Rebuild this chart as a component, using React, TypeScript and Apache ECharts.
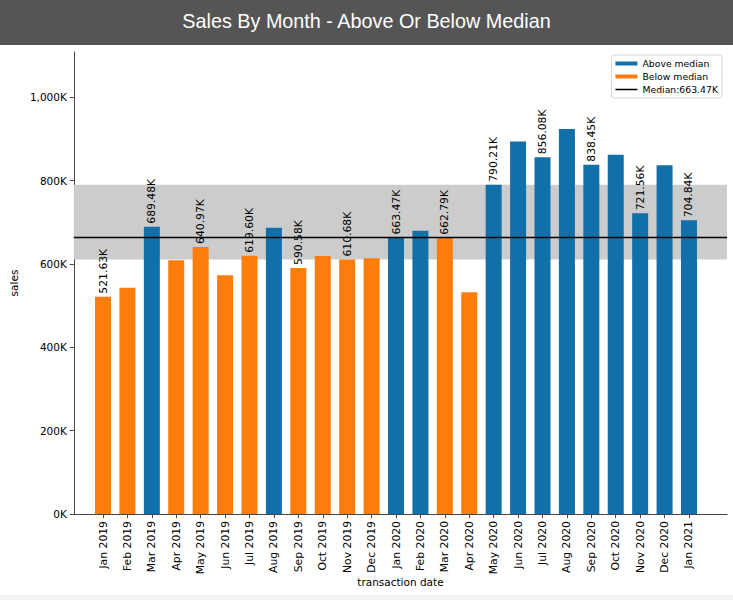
import React, { useEffect, useRef } from "react";
import * as echarts from "echarts";

// Monthly sales, Jan 2019 – Jan 2021
const months = [
  "Jan 2019", "Feb 2019", "Mar 2019", "Apr 2019", "May 2019", "Jun 2019",
  "Jul 2019", "Aug 2019", "Sep 2019", "Oct 2019", "Nov 2019", "Dec 2019",
  "Jan 2020", "Feb 2020", "Mar 2020", "Apr 2020", "May 2020", "Jun 2020",
  "Jul 2020", "Aug 2020", "Sep 2020", "Oct 2020", "Nov 2020", "Dec 2020",
  "Jan 2021",
];
const sales = [
  521630, 543000, 689480, 609000, 640970, 573000,
  619600, 687000, 590580, 619000, 610680, 614000,
  663470, 680000, 662790, 532000, 790210, 894000,
  856080, 924000, 838450, 862000, 721560, 837000,
  704840,
];
const yTickStep = 200000;

const ABOVE = "#1170aa";
const BELOW = "#fc7d0b";
const FONT = "DejaVu Sans";

// linear-interpolated quantile (same rule as numpy's default)
function quantile(values: number[], q: number): number {
  const s = [...values].sort((a, b) => a - b);
  const pos = (s.length - 1) * q;
  const lo = Math.floor(pos);
  const hi = Math.ceil(pos);
  return s[lo] + (s[hi] - s[lo]) * (pos - lo);
}

const median = quantile(sales, 0.5);
const q1 = quantile(sales, 0.25);
const q3 = quantile(sales, 0.75);
const yMax = Math.max(...sales) * 1.2;

const fmtK = (v: number) => (v / 1000).toFixed(2) + "K";
const tickK = (v: number) => (v / 1000).toLocaleString("en-US") + "K";

export default function App() {
  const ref = useRef<HTMLDivElement>(null);

  useEffect(() => {
    document.body.style.margin = "0";
    if (!ref.current) return;
    const chart = echarts.init(ref.current, null, { renderer: "svg" });

    const medianName = "Median:" + fmtK(median);

    const barLabel = {
      show: true,
      position: "top",
      rotate: 90,
      align: "left",
      verticalAlign: "middle",
      distance: 3,
      color: "#000",
      fontFamily: FONT,
      fontSize: 10.8,
      formatter: (p: any) => (p.dataIndex % 2 === 0 ? fmtK(p.value) : ""),
    };

    chart.setOption({
      animation: false,
      backgroundColor: "#ffffff",
      title: {
        text: "Sales By Month - Above Or Below Median",
        left: "center",
        top: 11,
        padding: 0,
        textStyle: {
          color: "#ffffff",
          fontFamily: "Liberation Sans",
          fontWeight: "normal",
          fontSize: 19.8,
        },
      },
      graphic: [
        {
          type: "rect",
          z: -10,
          shape: { x: 0, y: 0, width: 733, height: 45 },
          style: { fill: "#555555" },
        },
        {
          type: "rect",
          z: -10,
          shape: { x: 0, y: 595, width: 733, height: 5 },
          style: { fill: "#f4f4f4" },
        },
      ],
      legend: {
        right: 11,
        top: 55,
        orient: "vertical",
        align: "left",
        backgroundColor: "#ffffff",
        borderColor: "#d6d6d6",
        borderWidth: 1,
        borderRadius: 3,
        padding: [3, 4, 3, 4],
        itemGap: 2,
        itemWidth: 22,
        itemHeight: 4,
        textStyle: { fontFamily: FONT, fontSize: 9.3, color: "#000", lineHeight: 11 },
        data: [
          { name: "Above median", icon: "rect", itemStyle: { color: ABOVE } },
          { name: "Below median", icon: "rect", itemStyle: { color: BELOW } },
          {
            name: medianName,
            icon: "path://M0,0L22,0L22,0.01ZM0,1.3L22,1.3L22,2.7L0,2.7ZM0,3.99L22,3.99L22,4Z",
            itemStyle: { color: "#000" },
          },
        ],
      },
      grid: [
        { left: 65, right: 6, top: 52, bottom: 86 },
        { left: 90.8, right: 31.8, top: 52, bottom: 86 },
      ],
      xAxis: [
        {
          type: "value",
          gridIndex: 0,
          min: 0,
          max: 1,
          axisLine: { show: true, lineStyle: { color: "#444", width: 1 } },
          axisTick: { show: false },
          axisLabel: { show: false },
          splitLine: { show: false },
          name: "transaction date",
          nameLocation: "middle",
          nameGap: 62,
          nameTextStyle: { fontFamily: FONT, fontSize: 10.5, color: "#000" },
        },
        {
          type: "category",
          gridIndex: 1,
          data: months,
          boundaryGap: true,
          axisLine: { show: false },
          axisTick: {
            show: true,
            alignWithLabel: true,
            length: 4,
            lineStyle: { color: "#444" },
          },
          axisLabel: {
            rotate: 90,
            margin: 7,
            interval: 0,
            fontFamily: FONT,
            fontSize: 10.8,
            color: "#000",
          },
        },
      ],
      yAxis: [
        {
          type: "value",
          gridIndex: 0,
          min: 0,
          max: yMax,
          interval: yTickStep,
          axisLine: { show: true, lineStyle: { color: "#444", width: 1 } },
          axisTick: { show: true, length: 4, lineStyle: { color: "#444" } },
          axisLabel: {
            margin: 7,
            fontFamily: FONT,
            fontSize: 10.5,
            color: "#000",
            formatter: tickK,
            showMaxLabel: false,
          },
          splitLine: { show: false },
          name: "sales",
          nameLocation: "middle",
          nameGap: 50,
          nameTextStyle: { fontFamily: FONT, fontSize: 10.5, color: "#000" },
        },
        {
          type: "value",
          gridIndex: 1,
          min: 0,
          max: yMax,
          show: false,
        },
      ],
      series: [
        {
          // interquartile band
          type: "custom",
          name: "IQR",
          xAxisIndex: 0,
          yAxisIndex: 0,
          z: 1,
          silent: true,
          encode: { x: 0, y: [1, 2] },
          data: [[0.5, q1, q3]],
          renderItem: (_p: any, api: any) => {
            const lo = api.coord([0, api.value(1)]);
            const hi = api.coord([1, api.value(2)]);
            return {
              type: "rect",
              shape: { x: lo[0], y: hi[1], width: hi[0] - lo[0], height: lo[1] - hi[1] },
              style: { fill: "#cccccc" },
            };
          },
        },
        {
          type: "bar",
          name: "Above median",
          xAxisIndex: 1,
          yAxisIndex: 1,
          z: 3,
          barWidth: 16,
          barGap: "-100%",
          itemStyle: { color: ABOVE },
          label: barLabel,
          data: sales.map((v) => (v >= median ? v : null)),
        },
        {
          type: "bar",
          name: "Below median",
          xAxisIndex: 1,
          yAxisIndex: 1,
          z: 3,
          barWidth: 16,
          barGap: "-100%",
          itemStyle: { color: BELOW },
          label: barLabel,
          data: sales.map((v) => (v < median ? v : null)),
        },
        {
          // median reference line
          type: "custom",
          name: medianName,
          xAxisIndex: 0,
          yAxisIndex: 0,
          z: 10,
          silent: true,
          itemStyle: { color: "#000" },
          encode: { x: 0, y: 1 },
          data: [[0.5, median]],
          renderItem: (_p: any, api: any) => {
            const a = api.coord([0, api.value(1)]);
            const b = api.coord([1, api.value(1)]);
            return {
              type: "line",
              shape: { x1: a[0], y1: a[1], x2: b[0], y2: b[1] },
              style: { stroke: "#000", lineWidth: 1.5 },
            };
          },
        },
      ],
    });

    return () => chart.dispose();
  }, []);

  return <div ref={ref} style={{ width: 733, height: 600 }} />;
}
